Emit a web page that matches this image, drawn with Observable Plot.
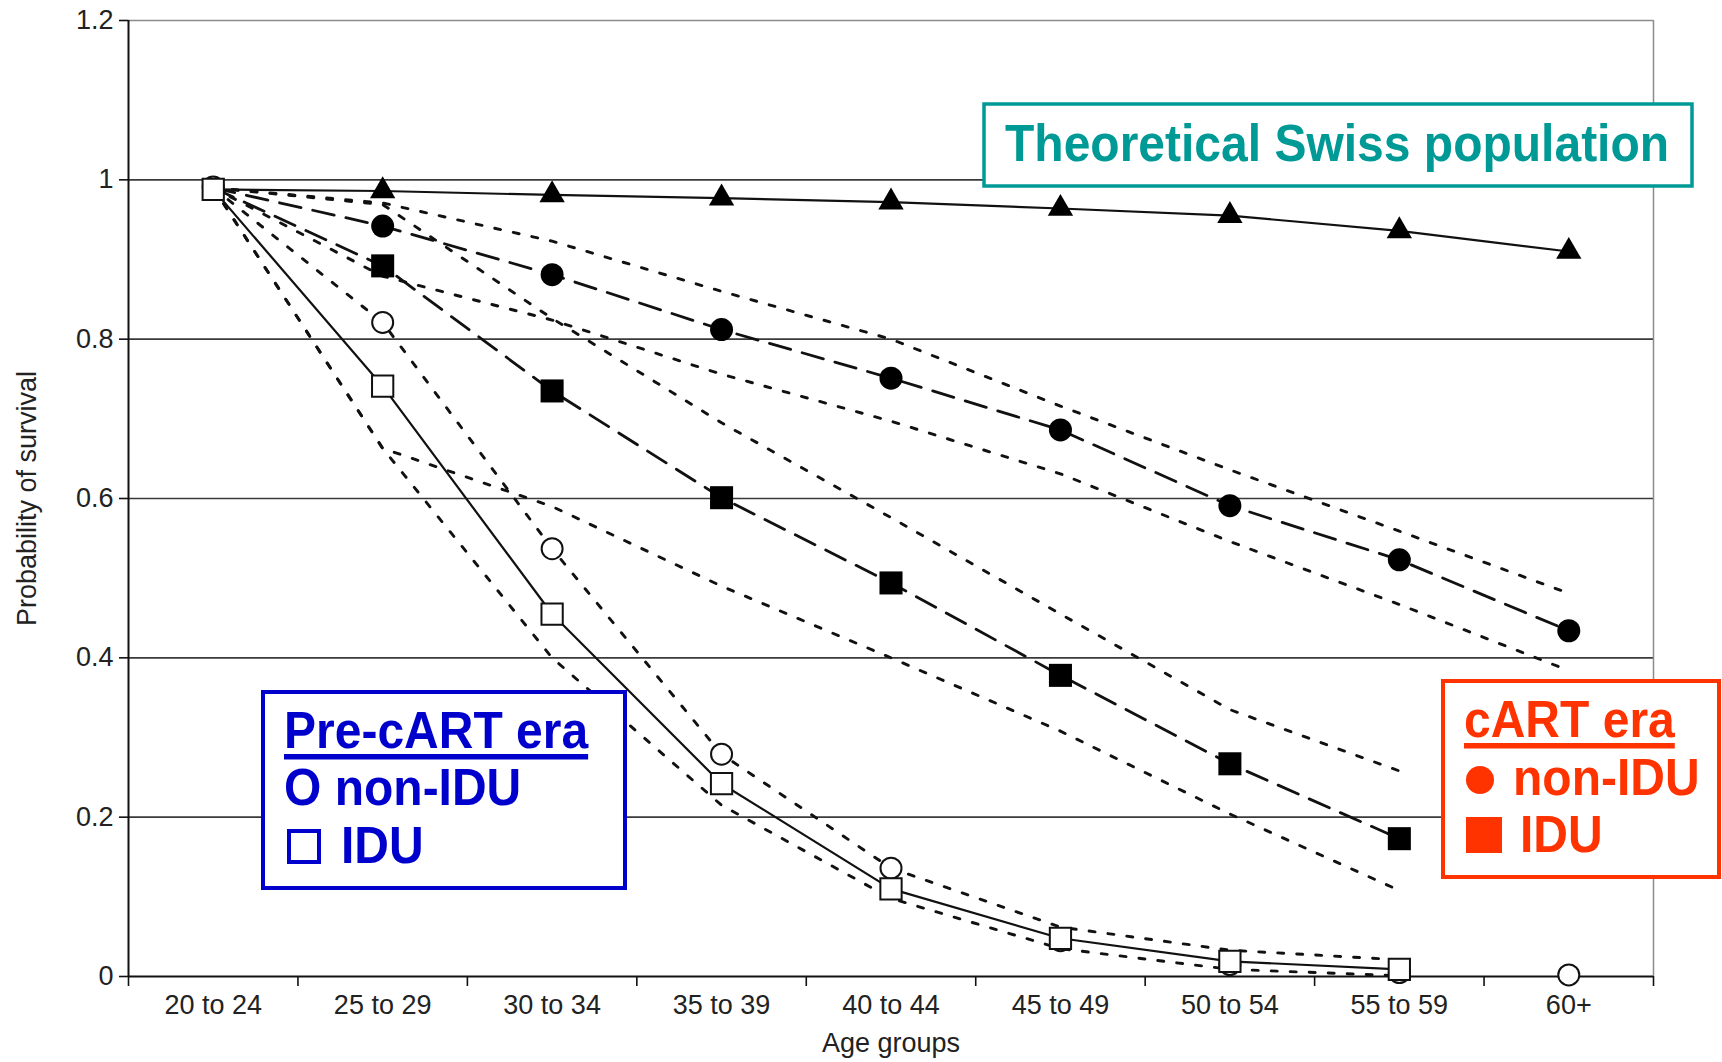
<!DOCTYPE html>
<html>
<head>
<meta charset="utf-8">
<script src="https://cdn.jsdelivr.net/npm/d3@7"></script>
<script src="https://cdn.jsdelivr.net/npm/@observablehq/plot@0.6"></script>
<style>
  html, body { margin: 0; padding: 0; background: #fff; }
  #chart { width: 1722px; height: 1062px; }
</style>
</head>
<body>
<div id="chart"></div>
<script>
// Age groups on the x axis
const ageGroups = ["20 to 24", "25 to 29", "30 to 34", "35 to 39", "40 to 44", "45 to 49", "50 to 54", "55 to 59", "60+"];
const yTicks = [0, 0.2, 0.4, 0.6, 0.8, 1, 1.2];

// Theoretical Swiss population
const swissPopulation = [0.988, 0.986, 0.981, 0.977, 0.972, 0.964, 0.955, 0.936, 0.910];

// cART era, non-IDU (with 95% CI)
const cartNonIdu      = [0.99, 0.942, 0.881, 0.812, 0.751, 0.686, 0.591, 0.523, 0.434];
const cartNonIduUpper = [0.99, 0.971, 0.923, 0.860, 0.800, 0.716, 0.636, 0.559, 0.481];
const cartNonIduLower = [0.99, 0.879, 0.824, 0.756, 0.697, 0.631, 0.546, 0.467, 0.384];

// cART era, IDU (with 95% CI)
const cartIdu      = [0.99, 0.892, 0.735, 0.601, 0.494, 0.378, 0.267, 0.173, null];
const cartIduUpper = [0.99, 0.969, 0.826, 0.695, 0.576, 0.455, 0.335, 0.258, null];
const cartIduLower = [0.99, 0.663, 0.590, 0.490, 0.400, 0.308, 0.204, 0.108, null];

// Pre-cART era, non-IDU
const preNonIdu = [0.991, 0.821, 0.537, 0.279, 0.136, 0.045, 0.015, 0.005, 0.002];

// Pre-cART era, IDU (with 95% CI)
const preIdu      = [0.988, 0.741, 0.455, 0.242, 0.110, 0.048, 0.019, 0.009, null];
const preIduUpper = [0.99, 0.821, 0.537, 0.279, 0.136, 0.062, 0.033, 0.021, null];
const preIduLower = [0.99, 0.663, 0.400, 0.215, 0.098, 0.035, 0.009, 0.001, null];

// Each age group sits at the centre of its band on a 0..9 index axis
const rows = values => values
  .map((y, i) => ({x: i + 0.5, y}))
  .filter(d => d.y != null);

const ink = "#111";
const solid = {x: "x", y: "y", stroke: ink, strokeWidth: 2.2};
const longDash = {x: "x", y: "y", stroke: ink, strokeWidth: 2.8, strokeDasharray: "22,12"};
const dotted = {x: "x", y: "y", stroke: ink, strokeWidth: 2.9, strokeDasharray: "6,13"};
const font = "'Liberation Sans', Arial, Helvetica, sans-serif";

const chart = Plot.plot({
  width: 1722,
  height: 1062,
  marginLeft: 128,
  marginRight: 69,
  marginTop: 20,
  marginBottom: 86,
  x: {domain: [0, 9], label: null},
  y: {domain: [0, 1.2], label: null},
  style: {fontFamily: font, background: "white", color: "#222", overflow: "visible"},
  marks: [
    // grid and frame
    Plot.ruleY([0.2, 0.4, 0.6, 0.8, 1], {stroke: "#3a3a3a", strokeWidth: 1.6}),
    Plot.ruleY([1.2], {stroke: "#8c8c8c", strokeWidth: 1.5}),
    Plot.ruleX([9], {stroke: "#8c8c8c", strokeWidth: 1.5}),
    Plot.axisY({ticks: yTicks, tickSize: 9, tickFormat: () => "", label: null, stroke: ink, strokeWidth: 1.6}),
    Plot.axisX({ticks: d3.range(10), tickSize: 10, tickFormat: () => "", label: null, stroke: ink, strokeWidth: 1.6}),
    Plot.ruleX([0], {stroke: ink, strokeWidth: 2}),
    Plot.ruleY([0], {stroke: ink, strokeWidth: 2}),

    // tick labels and axis titles
    Plot.text(yTicks, {y: d => d, text: d => d3.format("~g")(d), frameAnchor: "left", dx: -15, textAnchor: "end", fontSize: 27, fill: "#222"}),
    Plot.text(ageGroups, {x: (d, i) => i + 0.5, text: d => d, frameAnchor: "bottom", dy: 29, lineAnchor: "middle", fontSize: 27, fill: "#222"}),
    Plot.text(["Age groups"], {text: d => d, frameAnchor: "bottom", dy: 67, lineAnchor: "middle", fontSize: 27, fill: "#222"}),
    Plot.text(["Probability of survival"], {text: d => d, frameAnchor: "left", dx: -101, rotate: -90, textAnchor: "middle", lineAnchor: "middle", fontSize: 27, fill: "#222"}),

    // confidence bands (dotted)
    Plot.line(rows(cartNonIduUpper), dotted),
    Plot.line(rows(cartNonIduLower), dotted),
    Plot.line(rows(cartIduUpper), dotted),
    Plot.line(rows(cartIduLower), dotted),
    Plot.line(rows(preIduUpper), dotted),
    Plot.line(rows(preIduLower), dotted),

    // survival curves
    Plot.line(rows(swissPopulation), solid),
    Plot.line(rows(cartNonIdu), longDash),
    Plot.line(rows(cartIdu), longDash),
    Plot.line(rows(preIdu), solid),

    // markers
    Plot.dot(rows(swissPopulation).slice(1), {x: "x", y: "y", symbol: "triangle", r: 9.4, fill: "#000"}),
    Plot.dot(rows(cartNonIdu).slice(1), {x: "x", y: "y", symbol: "circle", r: 11.5, fill: "#000"}),
    Plot.dot(rows(cartIdu).slice(1), {x: "x", y: "y", symbol: "square", r: 13, fill: "#000"}),
    Plot.dot(rows(preNonIdu), {x: "x", y: "y", symbol: "circle", r: 10.5, fill: "white", stroke: ink, strokeWidth: 2}),
    Plot.dot(rows(preIdu), {x: "x", y: "y", symbol: "square", r: 12, fill: "white", stroke: ink, strokeWidth: 2})
  ]
});

document.getElementById("chart").append(chart);

// Boxed annotations drawn over the plot, in a tall, narrow bold face
const svg = d3.select(chart);

function addText(g, str, x, y, color) {
  const t = g.append("text")
    .attr("x", x).attr("y", y)
    .attr("fill", color)
    .attr("text-anchor", "start")
    .attr("font-family", font)
    .attr("font-size", 48)
    .attr("font-weight", "bold")
    .text(str);
  const w = t.node().getComputedTextLength();
  t.attr("font-size", 52).attr("textLength", w).attr("lengthAdjust", "spacingAndGlyphs");
  return {sel: t, width: w};
}

function underline(g, t, y, thickness, color) {
  g.append("rect").attr("x", +t.sel.attr("x")).attr("y", y)
    .attr("width", t.width).attr("height", thickness).attr("fill", color);
}

// Theoretical Swiss population
{
  const teal = "#009a96";
  const g = svg.append("g");
  g.append("rect").attr("x", 984).attr("y", 104).attr("width", 708).attr("height", 82)
    .attr("fill", "white").attr("stroke", teal).attr("stroke-width", 3.5);
  addText(g, "Theoretical Swiss population", 1005, 161, teal);
}

// Pre-cART era
{
  const blue = "#0000cc";
  const g = svg.append("g");
  g.append("rect").attr("x", 263).attr("y", 692).attr("width", 362).attr("height", 196)
    .attr("fill", "white").attr("stroke", blue).attr("stroke-width", 4);
  const t = addText(g, "Pre-cART era", 284, 748, blue);
  underline(g, t, 754, 5.5, blue);
  addText(g, "O non-IDU", 284, 805, blue);
  g.append("rect").attr("x", 289).attr("y", 831).attr("width", 30).attr("height", 31)
    .attr("fill", "none").attr("stroke", blue).attr("stroke-width", 4);
  addText(g, "IDU", 341, 863, blue);
}

// cART era
{
  const red = "#ff3300";
  const g = svg.append("g");
  g.append("rect").attr("x", 1443).attr("y", 681).attr("width", 276).attr("height", 196)
    .attr("fill", "white").attr("stroke", red).attr("stroke-width", 4);
  const t = addText(g, "cART era", 1464, 737, red);
  underline(g, t, 743, 5.5, red);
  g.append("circle").attr("cx", 1480).attr("cy", 780).attr("r", 14).attr("fill", red);
  addText(g, "non-IDU", 1513, 795, red);
  g.append("rect").attr("x", 1466).attr("y", 817).attr("width", 36).attr("height", 36).attr("fill", red);
  addText(g, "IDU", 1520, 852, red);
}
</script>
</body>
</html>
